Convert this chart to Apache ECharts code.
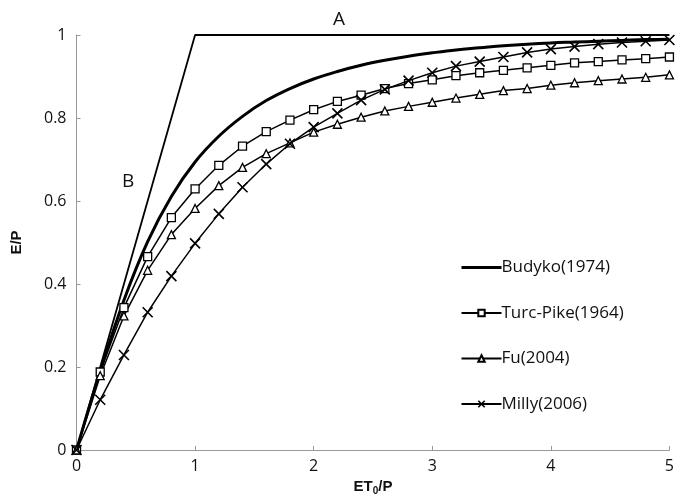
<!DOCTYPE html>
<html>
<head>
<meta charset="utf-8">
<script src="https://cdn.jsdelivr.net/npm/echarts@6/dist/echarts.min.js"></script>
<style>html,body{margin:0;padding:0;background:#fff}#c{width:677px;height:501px}</style>
</head>
<body>
<div id="c"></div>
<script>
const xValues = [0,0.2,0.4,0.6,0.8,1.0,1.2,1.4,1.6,1.8,2.0,2.2,2.4,2.6,2.8,3.0,3.2,3.4,3.6,3.8,4.0,4.2,4.4,4.6,4.8,5.0];
const budyko = [0,0.19,0.361,0.502,0.611,0.694,0.756,0.804,0.842,0.871,0.894,0.912,0.927,0.939,0.949,0.957,0.964,0.969,0.974,0.978,0.981,0.983,0.985,0.987,0.989,0.990];
const turcPike = [0,0.188,0.343,0.466,0.560,0.629,0.686,0.732,0.767,0.795,0.820,0.840,0.855,0.871,0.883,0.892,0.902,0.909,0.915,0.921,0.927,0.933,0.936,0.940,0.943,0.947];
const fu = [0,0.179,0.323,0.433,0.519,0.582,0.637,0.681,0.714,0.740,0.766,0.785,0.802,0.817,0.828,0.838,0.848,0.857,0.866,0.871,0.879,0.885,0.890,0.894,0.898,0.904];
const milly = [0,0.121,0.229,0.332,0.419,0.498,0.569,0.633,0.689,0.738,0.778,0.811,0.843,0.869,0.890,0.909,0.925,0.936,0.947,0.958,0.966,0.972,0.978,0.982,0.985,0.988];
const limitX = [0,1,5];
const limitY = [0,1,1];
const seriesNames = ['Budyko(1974)','Turc-Pike(1964)','Fu(2004)','Milly(2006)'];

const pair = (xs, ys) => xs.map((x, i) => [x, ys[i]]);
const FONT = 'Open Sans';
const chart = echarts.init(document.getElementById('c'), null, {renderer: 'canvas'});
const markerStyle = {color: '#fff', borderColor: '#000', borderWidth: 1.3};
chart.setOption({
  animation: false,
  backgroundColor: '#fff',
  grid: {left: 76.5, right: 3.5, top: 35, bottom: 46},
  legend: {
    data: [
      {name: seriesNames[0], itemStyle: {opacity: 0}, lineStyle: {width: 3}},
      {name: seriesNames[1]},
      {name: seriesNames[2]},
      {name: seriesNames[3], itemStyle: {borderWidth: 1.6}}
    ],
    orient: 'vertical',
    left: 455,
    top: 254,
    itemWidth: 40,
    itemHeight: 8,
    itemGap: 28.5,
    textStyle: {fontFamily: FONT, fontSize: 17, color: '#111', padding: [0,0,0,-5]}
  },
  xAxis: {
    type: 'value', min: 0, max: 5, interval: 1,
    name: '{b|ET}{s|0}{b|/P}', nameLocation: 'middle', nameGap: 28,
    nameTextStyle: {rich: {b: {fontFamily: 'Liberation Sans', fontWeight: 'bold', fontSize: 15, color: '#111'}, s: {fontFamily: 'Liberation Sans', fontWeight: 'bold', fontSize: 10, color: '#111', verticalAlign: 'bottom', padding: [8,0,0,0]}}},
    axisLine: {lineStyle: {color: '#999', width: 1}},
    axisTick: {inside: true, length: 4, lineStyle: {color: '#999'}},
    splitLine: {show: false},
    axisLabel: {fontFamily: FONT, fontSize: 16, color: '#111', margin: 8}
  },
  yAxis: {
    type: 'value', min: 0, max: 1, interval: 0.2,
    name: 'E/P', nameLocation: 'middle', nameGap: 52, nameRotate: 90,
    nameTextStyle: {fontFamily: 'Liberation Sans', fontWeight: 'bold', fontSize: 15, color: '#111'},
    axisLine: {show: true, lineStyle: {color: '#999', width: 1}},
    axisTick: {show: true, inside: true, length: 4, lineStyle: {color: '#999'}},
    splitLine: {show: false},
    axisLabel: {fontFamily: FONT, fontSize: 16, color: '#111', margin: 10}
  },
  graphic: [
    {type: 'text', left: 333, top: 10, style: {text: 'A', fontFamily: FONT, fontSize: 19, fill: '#111'}},
    {type: 'text', left: 122, top: 172, style: {text: 'B', fontFamily: FONT, fontSize: 19, fill: '#111'}}
  ],
  series: [
    {name: 'limits', type: 'line', data: pair(limitX, limitY), showSymbol: false, symbol: 'none',
     lineStyle: {color: '#000', width: 1.8}, silent: true, z: 1},
    {name: seriesNames[0], type: 'line', data: pair(xValues, budyko), smooth: 0.4,
     symbol: 'none', showSymbol: false, color: '#000', lineStyle: {color: '#000', width: 3}, z: 2},
    {name: seriesNames[1], type: 'line', data: pair(xValues, turcPike), symbol: 'rect', symbolSize: 8,
     showAllSymbol: true, color: '#000', lineStyle: {color: '#000', width: 1.5}, itemStyle: markerStyle, z: 3},
    {name: seriesNames[2], type: 'line', data: pair(xValues, fu), symbol: 'triangle', symbolSize: 8,
     showAllSymbol: true, color: '#000', lineStyle: {color: '#000', width: 1.5}, itemStyle: markerStyle, z: 3},
    {name: seriesNames[3], type: 'line', data: pair(xValues, milly), symbol: 'path://M0,0L10,10M10,0L0,10', symbolSize: 10,
     showAllSymbol: true, color: '#000', lineStyle: {color: '#000', width: 1.5}, itemStyle: {color: 'none', borderColor: '#000', borderWidth: 1.6}, z: 4}
  ]
});
</script>
</body>
</html>
